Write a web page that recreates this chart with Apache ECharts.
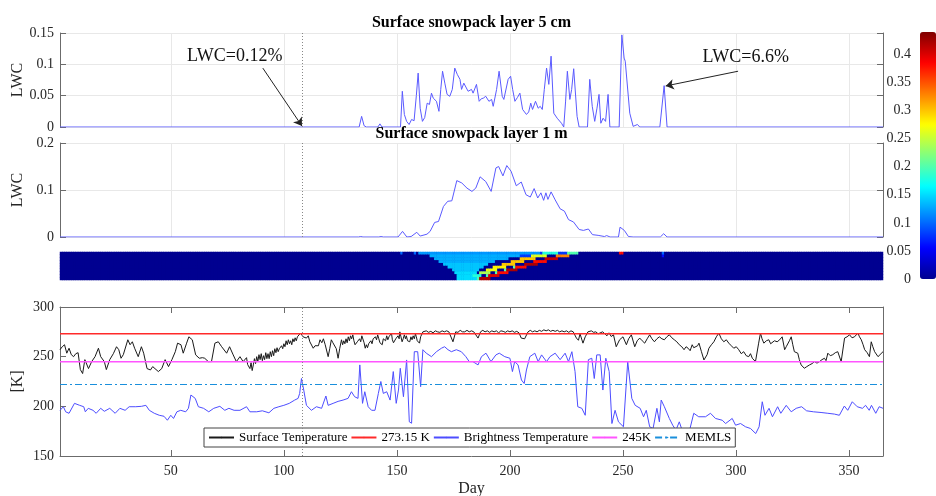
<!DOCTYPE html>
<html>
<head>
<meta charset="utf-8">
<script src="https://cdn.jsdelivr.net/npm/echarts@6/dist/echarts.min.js"></script>
<style>
  html, body { margin: 0; background: #fff; }
  #chart { width: 936px; height: 496px; }
</style>
</head>
<body>
<div id="chart"></div>
<script>
// ---- data ----
const markDay = 108

// LWC of the 5 cm surface layer, [day, LWC]
const lwc5cm = [
  [1, 0], [107.3, 0], [108, 0.0012], [108.8, 0], [133.3, 0], [134.4, 0.017], [135.5, 0.002], [136.5, 0],
  [141.6, 0], [142.5, 0.005], [143.4, 0], [151.6, 0], [152.4, 0.057], [153.3, 0.02], [154.3, 0.009],
  [155.4, 0.004], [156.5, 0.012], [157.6, 0.01], [158.6, 0.05], [159.4, 0.086], [160.3, 0.03], [161.3, 0.009],
  [162.3, 0.015], [163.4, 0.038], [164.4, 0.036], [165.3, 0.054], [166.1, 0.046], [166.8, 0.045], [167.5, 0.041],
  [168.6, 0.025], [169.4, 0.06], [170.2, 0.089], [171.2, 0.07], [172.2, 0.052], [173.4, 0.049], [174.5, 0.06],
  [175.6, 0.094], [176.7, 0.084], [177.9, 0.076], [178.6, 0.06], [179.6, 0.07], [180.4, 0.073], [181.5, 0.057],
  [183, 0.06], [183.7, 0.054], [185.2, 0.068], [186.4, 0.041], [187.3, 0.045], [188.2, 0.046], [189.3, 0.049],
  [190.7, 0.041], [191.9, 0.044], [192.6, 0.033], [194.1, 0.06], [195.2, 0.089], [196.6, 0.049], [197.3, 0.044],
  [199.2, 0.076], [200.3, 0.081], [201.2, 0.06], [202.2, 0.041], [203.3, 0.047], [204.4, 0.054], [205.6, 0.028],
  [207.3, 0.02], [208.3, 0.024], [209.2, 0.038], [210, 0.028], [211.3, 0.041], [212.5, 0.03], [213.4, 0.033],
  [214.3, 0.028], [215.2, 0.06], [216.2, 0.094], [217.2, 0.068], [218.2, 0.113], [219.4, 0.022], [220.9, 0.014],
  [222.8, 0.006], [223.8, 0], [224.6, 0.04], [225.4, 0.089], [226.5, 0.044], [227.3, 0.06], [228.2, 0.093],
  [229.7, 0.017], [230.6, 0], [234.3, 0], [235.3, 0.076], [236.4, 0.033], [237.5, 0.009], [238.5, 0.03],
  [239.4, 0.052], [240.2, 0.006], [241.2, 0.014], [241.8, 0.011], [242.3, 0.009], [243.4, 0.052], [244.2, 0],
  [248.3, 0], [249.5, 0.147], [250.5, 0.11], [251, 0.105], [251.5, 0.102], [253, 0.022], [254.5, 0.001],
  [256.4, 0.004], [257.4, 0], [266.3, 0], [268.2, 0.066], [269.5, 0], [365, 0]
]

// LWC of the 1 m layer, [day, LWC]
const lwc1m = [
  [1, 0], [133, 0], [134, 0.001], [135, 0], [142, 0], [143, 0.001], [144, 0], [150.5, 0], [152.5, 0.012],
  [154.4, 0], [156.3, 0.001], [158.8, 0.01], [160.3, 0.002], [163.3, 0.006], [164.7, 0.012], [166.7, 0.031],
  [168.4, 0.033], [170.6, 0.065], [172.5, 0.076], [174.3, 0.077], [176.5, 0.12], [178.7, 0.115], [181, 0.104],
  [183.2, 0.097], [184.9, 0.104], [186.8, 0.128], [189.3, 0.118], [191.7, 0.097], [193.8, 0.147], [195, 0.15],
  [196.9, 0.13], [198.6, 0.152], [200.5, 0.14], [202.8, 0.109], [205, 0.117], [207.1, 0.09], [209, 0.085],
  [210.7, 0.103], [212.3, 0.083], [213.7, 0.094], [214.9, 0.078], [215.9, 0.094], [216.8, 0.08], [218.2, 0.096],
  [220, 0.079], [222.2, 0.06], [224.1, 0.055], [225.9, 0.037], [228.1, 0.032], [230.6, 0.016], [232.5, 0.014],
  [234.7, 0.017], [236.5, 0.005], [239, 0.0035], [241.8, 0.001], [242.8, 0.003], [244.3, 0], [248, 0],
  [248.7, 0.021], [250.6, 0.014], [252.4, 0.001], [254.5, 0], [266.5, 0], [268, 0.007], [269.5, 0], [365, 0]
]

// surface temperature [K]
const surfaceTemp = [
  [1, 257], [2, 260], [3, 262], [4, 253.5], [5, 258.5], [6, 252], [7, 250], [8, 253], [9, 254], [10, 237],
  [11, 233], [12, 247], [13.6, 238], [15, 245], [16.5, 250], [18, 258.5], [19, 250], [20.6, 245], [21.5, 237],
  [23, 247], [24.6, 253], [26, 260], [27, 257], [28, 248.4], [29, 252], [31, 267], [32, 262], [33, 265],
  [34, 258.5], [35.6, 250], [37, 260], [38, 253.5], [39.5, 238], [41, 236.6], [42, 240], [44.5, 235], [46, 238],
  [47.5, 247], [49, 240], [50.5, 247], [52, 255], [53, 263.6], [54.5, 262], [55.5, 253.5], [57, 263.6], [58, 270],
  [59.5, 267], [61, 251.8], [62.6, 248.4], [64, 249], [65, 248.4], [66.6, 245], [68, 245], [69.5, 263.6], [71, 265],
  [72.5, 260], [74.7, 253.5], [76, 260], [77.6, 251.8], [79, 245], [80.6, 250], [82, 245], [83.5, 249], [84, 242],
  [85, 238], [85.5, 244], [86, 236], [86.5, 241.7], [87, 248], [87.5, 243], [88, 250], [88.5, 245], [89, 252],
  [89.5, 247], [90, 253], [90.5, 246], [91, 251], [91.5, 247], [92, 254], [92.5, 248], [93, 253], [93.5, 248],
  [94, 255], [94.5, 250], [95, 256], [95.5, 251], [96, 258], [96.5, 254], [97, 259], [97.5, 255], [98, 258],
  [98.5, 256], [99, 261], [99.5, 258], [100, 263], [100.5, 260], [101, 266], [101.5, 262], [102, 267], [102.5, 263],
  [103, 266], [103.5, 262], [104, 268], [104.5, 265], [105, 269], [105.5, 266], [106, 270], [106.5, 268],
  [107.4, 273.7], [108.5, 270], [109.2, 272], [110, 268.7], [110.8, 271], [111.5, 265], [112.3, 267], [113, 258.5],
  [113.8, 261], [114.5, 263], [115.3, 261], [116, 267], [116.8, 264], [117.5, 268], [118.3, 262], [119.6, 250],
  [120.3, 258], [121, 267], [121.7, 264], [122.5, 263.6], [123.2, 258], [124, 248.4], [124.7, 258], [125.5, 267],
  [126, 262], [126.5, 266], [127, 263], [127.5, 268], [128, 264], [128.5, 270], [129, 266], [129.5, 271], [130, 268],
  [130.5, 272], [131, 266], [131.5, 262], [132, 260], [132.5, 265], [133, 263], [133.5, 268], [134, 265],
  [134.5, 271], [135, 272], [135.5, 264], [136, 258.5], [136.5, 262], [137, 259], [137.5, 263], [138, 261],
  [138.5, 266], [139, 263], [139.5, 268], [140, 266], [140.5, 270], [141, 267], [141.5, 272], [142, 268],
  [142.5, 264], [143, 266], [143.5, 262], [144, 268], [144.5, 270], [145, 266], [145.5, 271], [146, 267],
  [146.5, 270], [147, 268], [147.6, 273.7], [148, 267], [148.5, 264], [149, 263.6], [149.5, 268], [150, 266],
  [150.5, 271], [151, 268], [151.3, 275], [151.8, 270], [152.3, 265], [152.8, 268], [153.3, 272], [153.8, 268],
  [154.2, 271], [154.7, 266], [155.2, 268], [155.7, 265], [156.2, 270], [156.7, 267], [157.2, 271], [157.7, 268],
  [158.2, 273], [158.6, 270], [159, 266], [159.5, 264], [160, 263.6], [160.5, 270], [161, 268], [161.5, 275],
  [163, 276], [164, 274.5], [165, 275.5], [166, 274], [167, 276], [168, 275], [169, 274.5], [170, 276], [171, 275],
  [172, 276], [173, 275], [174.8, 265], [176, 275], [177, 274.5], [178, 276.5], [179, 275], [180, 275], [181, 276.5],
  [182, 275], [183, 276], [184, 275], [185.9, 268.7], [187, 275], [188, 276.5], [189, 275], [190, 276], [191, 274.5],
  [192, 276], [193, 275], [194, 276], [195, 274], [196, 276], [197, 275.5], [198, 274.5], [199, 276], [200, 275],
  [201, 276], [202, 274.5], [203, 275.5], [204, 274], [205, 268.7], [206.5, 268], [208, 275], [209, 276.5],
  [210, 275], [211, 276], [212, 275], [213, 276.5], [214, 275.5], [215, 277], [216, 276], [217, 277], [218, 275.5],
  [219, 276.5], [220, 275.5], [221, 276.5], [222, 275], [223, 276], [224, 275], [225, 276], [226, 274.5], [227, 276],
  [228, 275], [229.4, 268.7], [230.3, 266.5], [231, 273], [232.3, 263.6], [233.3, 270], [234.5, 275], [235.3, 274],
  [236, 276], [237, 274.5], [238, 275], [239, 273], [239.7, 274.5], [241, 275], [242, 273], [242.9, 271],
  [243.8, 274], [244.8, 270.3], [245.8, 272], [247, 260], [248.5, 267], [250, 270], [251.5, 262], [252.5, 268],
  [253.7, 272], [255.2, 260], [256.3, 266], [257.4, 268.7], [258.5, 266], [259.6, 263.6], [260.7, 268], [261.8, 272],
  [262.8, 268], [263.9, 265], [265, 268], [266.1, 270], [267.2, 268], [268.3, 267], [269.4, 270], [270.5, 272],
  [271.6, 269], [272.7, 267], [273.8, 265], [274.9, 262], [276, 260], [277, 257], [277.9, 260], [278.8, 258.5],
  [279.7, 256], [280.6, 262], [281.3, 259], [282.1, 257], [283, 261], [283.6, 263.6], [284.7, 255], [285.8, 246.7],
  [286.5, 245], [287.2, 252], [288, 258.5], [289.1, 262], [290.2, 265], [291.3, 270], [292.4, 273.7], [293.5, 268],
  [294.6, 265], [295.7, 267], [296.8, 263.6], [297.9, 261], [299, 258.5], [300.1, 260], [301.2, 257], [302.3, 253],
  [303.4, 255], [304.5, 251], [305.6, 250], [306.4, 253], [307.2, 248.4], [308.6, 245], [310, 263.6], [310.8, 273.7],
  [311.5, 268], [312.3, 263.6], [313.4, 266], [314.5, 267], [315.3, 263], [316, 262], [317, 266], [318.2, 265],
  [319.3, 267], [320.4, 270], [321.5, 257], [322.2, 260], [322.9, 262], [323.6, 266], [324.4, 270], [325.1, 262],
  [325.8, 255], [326.5, 256], [327.3, 253.5], [328, 247], [328.8, 241.7], [329.5, 240], [330.2, 238.3], [331.3, 240],
  [332.5, 241.7], [333.6, 243], [334.7, 245], [335.8, 243.5], [336.9, 245], [338, 247], [339.1, 248.4], [339.8, 246],
  [340.6, 253.5], [341.7, 251], [342.8, 252], [343.9, 254], [345, 255], [346.5, 245], [348, 268.7], [349.1, 270],
  [350.2, 272], [351.3, 269], [352.4, 270], [353.2, 272], [353.9, 273.7], [354.6, 270], [355.4, 267], [356.2, 262],
  [356.9, 257], [358, 254], [359, 250], [359.8, 265], [360.5, 260], [361.3, 255], [362, 257], [362.8, 250], [365, 255]
]

// brightness temperature [K]
const brightnessTemp = [
  [1, 196], [2.5, 199.6], [3, 201], [3.5, 194.5], [5, 193], [7.4, 203], [9.7, 201], [11.5, 199.6], [12.2, 194.5],
  [13.5, 198], [15.6, 196], [17, 193], [19, 198], [20.6, 195], [23, 198], [25.4, 193], [27.5, 198], [29.8, 196],
  [31.6, 199.6], [34.5, 199.6], [37, 200], [39, 201], [40.5, 196], [42.7, 193], [44.9, 191], [47, 190], [48.5, 186],
  [50, 191], [51.2, 187.8], [52.7, 194.5], [54.4, 196], [56.6, 194.5], [57.8, 198], [58.9, 211.4], [60.8, 208],
  [62.2, 199.6], [64.5, 198], [66.8, 194.5], [69, 198], [71.7, 200], [73.9, 196], [75.7, 198], [78, 196],
  [80.6, 196], [83.5, 199.6], [85, 194.5], [88, 194.5], [90.5, 195.5], [93.4, 193.5], [95.6, 198], [97.8, 199.6],
  [100, 201], [102.4, 203], [104.8, 206.3], [106.3, 208], [107, 213], [107.8, 228], [108.8, 216.4], [110, 201],
  [112.2, 196], [114.4, 199.6], [116.7, 198], [118.6, 210.4], [119.6, 201], [121.8, 203], [124, 205], [126.2, 206.3],
  [128.4, 208], [129.9, 214.7], [131.3, 209.7], [132.8, 208], [133.6, 241.7], [134.8, 203], [135.8, 214.7],
  [137.3, 199.6], [138.8, 196], [140.3, 196], [141.8, 213], [142.9, 225], [144, 213], [145.5, 214.7], [147, 206.3],
  [148.4, 235], [149.7, 203], [150.7, 216.4], [151.5, 238.3], [152.9, 209.7], [154.3, 246.7], [155.5, 184.4],
  [156.5, 183], [157.7, 255], [159.2, 255], [160.5, 219.8], [161.5, 257], [163, 253.5], [165.3, 250], [167.5, 255],
  [169.7, 258.5], [171.1, 260], [172.6, 257], [174.1, 255], [176.3, 257], [178.5, 255], [180.5, 250], [182, 245],
  [183.6, 245], [185.9, 241.7], [187.4, 250], [189.4, 253.5], [191.6, 245], [193.8, 251.8], [195.3, 253.5],
  [197.7, 250], [200, 248.4], [201.1, 235], [202.1, 245], [203.6, 241.7], [205.1, 226.5], [206.3, 223], [207.3, 236.6],
  [208.8, 250], [211, 253.5], [212.5, 245], [214, 251.8], [216.2, 245], [217.7, 250], [220, 253.5], [222.2, 247],
  [224.4, 253.5], [225.9, 245], [227.4, 255], [228.8, 235], [230, 199.6], [231.8, 198], [233.3, 191], [234.7, 247],
  [236.2, 248.4], [237.3, 228], [238.4, 251.8], [239.9, 251.8], [241.1, 216.4], [242.4, 248.4], [243.9, 235],
  [245.1, 182.7], [246.5, 196], [248, 184.4], [250.2, 179.4], [252.1, 245], [253.9, 208], [255.4, 201], [257.6, 198],
  [259.1, 189.5], [260.3, 196], [261.8, 179.4], [263.3, 177.7], [265, 198], [266.1, 184.4], [266.9, 206.3],
  [268.3, 199.6], [270.5, 187.8], [272, 181], [273.4, 176], [274.9, 184.4], [276.4, 174.3], [279.1, 172.6],
  [281.3, 193], [283.5, 189.5], [286.5, 189.5], [288.7, 193], [290.9, 187.8], [293.9, 186], [295.4, 182.7],
  [298.3, 187.8], [299.8, 181], [302, 182.7], [304.2, 179.4], [306.4, 177.7], [308.7, 172.6], [310.2, 179.4],
  [311.6, 204.6], [312.8, 191], [314.6, 198], [316.1, 189.5], [318.4, 199.6], [319.8, 193], [322.2, 201],
  [324.4, 194.5], [326.6, 198], [329, 199.6], [331.2, 195.5], [334.2, 194.5], [337.6, 193.8], [340.6, 193],
  [343.5, 192.2], [345.7, 191], [347.9, 200.3], [349.4, 196], [351.4, 204.6], [353.6, 199.6], [355.9, 198],
  [357.3, 201], [358.9, 196], [359.9, 201], [361.8, 193], [363.3, 199.6], [365, 198]
]

// constant reference levels [K]
const meltLevel = 273.15
const level245 = 245
const memlsLevel = 222

// snowpack LWC profile: [row (0 = top), first day, last day, LWC]
const depthRows = ['0', '1', '2', '3', '4', '5', '6', '7', '8', '9']
const heatRuns = [
  // light-blue wedge of moderately wet snow
  [0, 160, 214, 0.12], [1, 165, 205, 0.13], [2, 167, 199, 0.13], [3, 169, 193, 0.13], [4, 171, 190, 0.14],
  [5, 173, 188, 0.14], [6, 175, 186, 0.14], [7, 176, 185, 0.15], [8, 177, 185, 0.15], [9, 177, 185, 0.15],
  [0, 214, 228, 0.08], [1, 205, 214, 0.08],
  // upper diagonal band
  [8, 184, 187, 0.18], [7, 187, 191, 0.24], [6, 190, 194, 0.27], [5, 193, 198, 0.28],
  [4, 197, 202, 0.3], [3, 201, 206, 0.3], [2, 205, 211, 0.3], [1, 210, 216, 0.26], [0, 215, 221, 0.18],
  // lower diagonal band (wettest)
  [9, 186, 186, 0.2], [8, 190, 190, 0.2], [7, 194, 194, 0.2], [6, 198, 198, 0.2], [5, 202, 202, 0.2],
  [9, 187, 191, 0.42], [8, 191, 195, 0.4], [7, 195, 199, 0.38], [6, 199, 203, 0.42], [5, 203, 207, 0.38],
  [4, 207, 212, 0.42], [3, 211, 216, 0.38], [2, 216, 221, 0.41], [1, 221, 226, 0.33], [0, 226, 230, 0.2],
  // isolated wet spots near the surface
  [0, 152, 152, 0.1], [0, 158, 158, 0.1], [0, 249, 250, 0.38], [0, 268, 268, 0.1], [1, 268, 268, 0.06]
]

const dayTicks = [50, 100, 150, 200, 250, 300, 350]

// ---- build ----
const days = []
for (let d = 1; d <= 365; d++) days.push(String(d))

const heatGrid = depthRows.map(() => days.map(() => 0))
heatRuns.forEach(([row, d0, d1, v]) => {
  for (let d = d0; d <= d1; d++) heatGrid[row][d - 1] = v
})
const heatData = []
heatGrid.forEach((r, ri) => r.forEach((v, di) => heatData.push([di, ri, v])))

const FONT = 'Liberation Serif'
const AXIS_COLOR = '#6b6b6b'
const GRID_COLOR = '#e8e8e8'
const jet = ['#000090', '#0000ff', '#0080ff', '#00ffff', '#80ff80', '#ffff00', '#ff8000', '#ff0000', '#800000']

const tickLabel = { fontFamily: FONT, fontSize: 14, color: '#262626' }
const nameStyle = { fontFamily: FONT, fontSize: 16, color: '#262626' }

const dayLine = {
  silent: true,
  symbol: 'none',
  label: { show: false },
  lineStyle: { color: '#888', type: [1, 2], width: 1 },
  data: [{ xAxis: markDay }]
}

function lwcX(gridIndex) {
  return {
    type: 'value', gridIndex, min: 1, max: 365, splitNumber: 7,
    axisLine: { show: false }, axisTick: { show: false }, axisLabel: { show: false },
    splitLine: { show: true, lineStyle: { color: GRID_COLOR } }
  }
}
function lwcY(gridIndex, max, interval) {
  return [
    {
      type: 'value', gridIndex, min: 0, max, interval, name: 'LWC',
      nameLocation: 'middle', nameGap: 34, nameMoveOverlap: false, nameTextStyle: nameStyle,
      axisLine: { show: true, lineStyle: { color: AXIS_COLOR } },
      axisTick: { show: true, inside: true, length: 6, lineStyle: { color: AXIS_COLOR } },
      axisLabel: Object.assign({ margin: 6 }, tickLabel),
      splitLine: { show: true, lineStyle: { color: GRID_COLOR } }
    },
    {
      type: 'value', gridIndex, min: 0, max, interval, position: 'right',
      axisLine: { show: true, lineStyle: { color: AXIS_COLOR } },
      axisTick: { show: true, inside: true, length: 6, lineStyle: { color: AXIS_COLOR } },
      axisLabel: { show: false }, splitLine: { show: false }
    }
  ]
}

const chart = echarts.init(document.getElementById('chart'), null, { renderer: 'canvas' })

const option = {
  animation: false,
  backgroundColor: '#fff',
  textStyle: { fontFamily: FONT },
  title: [
    { text: 'Surface snowpack layer 5 cm', left: 471.5, top: 15, textAlign: 'center', padding: 0,
      textStyle: { fontFamily: FONT, fontSize: 16, fontWeight: 'bold', color: '#000' } },
    { text: 'Surface snowpack layer 1 m', left: 471.5, top: 126, textAlign: 'center', padding: 0,
      textStyle: { fontFamily: FONT, fontSize: 16, fontWeight: 'bold', color: '#000' } }
  ],
  grid: [
    { left: 60, top: 33, width: 823, height: 94, outerBoundsMode: 'none' },
    { left: 60, top: 143, width: 823, height: 94, outerBoundsMode: 'none' },
    { left: 60, top: 252, width: 823, height: 28, outerBoundsMode: 'none',
      show: true, backgroundColor: '#000090', borderWidth: 0 },
    { left: 60, top: 307, width: 823, height: 149, outerBoundsMode: 'none' },
    { left: 920, top: 32, width: 16, height: 247, outerBoundsMode: 'none' }
  ],
  xAxis: [
    lwcX(0),
    lwcX(1),
    { type: 'category', gridIndex: 2, data: days, show: false },
    {
      type: 'value', gridIndex: 3, min: 1, max: 365, position: 'bottom',
      name: 'Day', nameLocation: 'middle', nameGap: 25, nameMoveOverlap: false, nameTextStyle: nameStyle,
      axisLine: { show: true, onZero: false, lineStyle: { color: AXIS_COLOR } },
      axisTick: { show: true, inside: true, length: 6, customValues: dayTicks, lineStyle: { color: AXIS_COLOR } },
      axisLabel: Object.assign({ customValues: dayTicks, margin: 8 }, tickLabel),
      splitLine: { show: false }
    },
    {
      type: 'value', gridIndex: 3, min: 1, max: 365, position: 'top',
      axisLine: { show: true, onZero: false, lineStyle: { color: AXIS_COLOR } },
      axisTick: { show: true, inside: true, length: 6, customValues: dayTicks, lineStyle: { color: AXIS_COLOR } },
      axisLabel: { show: false }, splitLine: { show: false }
    },
    { type: 'category', gridIndex: 4, data: ['c'], show: false }
  ],
  yAxis: [
    ...lwcY(0, 0.15, 0.05),
    ...lwcY(1, 0.2, 0.1),
    { type: 'category', gridIndex: 2, data: depthRows, inverse: true, show: false },
    {
      type: 'value', gridIndex: 3, min: 150, max: 300, interval: 50, name: '[K]',
      nameLocation: 'middle', nameGap: 34, nameMoveOverlap: false, nameTextStyle: nameStyle,
      axisLine: { show: true, lineStyle: { color: AXIS_COLOR } },
      axisTick: { show: true, inside: true, length: 6, lineStyle: { color: AXIS_COLOR } },
      axisLabel: Object.assign({ margin: 6 }, tickLabel),
      splitLine: { show: false }
    },
    {
      type: 'value', gridIndex: 3, min: 150, max: 300, interval: 50, position: 'right',
      axisLine: { show: true, lineStyle: { color: AXIS_COLOR } },
      axisTick: { show: false }, axisLabel: { show: false }, splitLine: { show: false }
    },
    {
      type: 'value', gridIndex: 4, min: 0, max: 0.44, interval: 0.05, position: 'left',
      axisLine: { show: false }, axisTick: { show: false },
      axisLabel: Object.assign({ margin: 9, showMaxLabel: false }, tickLabel),
      splitLine: { show: false }
    }
  ],
  visualMap: {
    type: 'continuous', seriesIndex: 2, min: 0, max: 0.44,
    inRange: { color: jet },
    left: 920, top: 32, itemWidth: 16, itemHeight: 247, padding: 0,
    calculable: false, hoverLink: false
  },
  legend: {
    data: ['Surface Temperature', '273.15 K', 'Brightness Temperature', '245K', 'MEMLS'],
    left: 204, top: 428, itemWidth: 25, itemHeight: 2, itemGap: 3,
    padding: [3, 4, 3, 4],
    backgroundColor: '#fff', borderColor: '#444', borderWidth: 1, borderRadius: 0,
    textStyle: { fontFamily: FONT, fontSize: 13, color: '#000' }
  },
  series: [
    {
      name: 'LWC 5 cm', type: 'line', xAxisIndex: 0, yAxisIndex: 0, data: lwc5cm,
      symbol: 'none', lineStyle: { color: '#5a5aff', width: 1 },
      markLine: {
        silent: true, symbol: 'none', label: { show: false },
        data: [
          { xAxis: markDay, lineStyle: { color: '#888', type: [1, 2], width: 1 } },
          [
            { coord: [90.7, 0.094], symbol: 'none', lineStyle: { color: '#222', type: 'solid', width: 1 } },
            { coord: [108, 0.0016], symbol: 'arrow', symbolSize: 8 }
          ],
          [
            { coord: [300.9, 0.089], symbol: 'none', lineStyle: { color: '#222', type: 'solid', width: 1 } },
            { coord: [268.9, 0.0655], symbol: 'arrow', symbolSize: 8 }
          ]
        ]
      },
      markPoint: {
        silent: true, symbol: 'circle', symbolSize: 1, itemStyle: { color: 'rgba(0,0,0,0)' },
        label: { show: true, position: 'inside', fontFamily: FONT, fontSize: 18, color: '#111' },
        data: [
          { coord: [78.3, 0.113], label: { formatter: 'LWC=0.12%' } },
          { coord: [304.3, 0.111], label: { formatter: 'LWC=6.6%' } }
        ]
      }
    },
    {
      name: 'LWC 1 m', type: 'line', xAxisIndex: 1, yAxisIndex: 2, data: lwc1m,
      symbol: 'none', lineStyle: { color: '#5a5aff', width: 1 }, markLine: dayLine
    },
    {
      name: 'LWC profile', type: 'heatmap', xAxisIndex: 2, yAxisIndex: 4, data: heatData,
      itemStyle: { borderWidth: 0 }, progressive: 0
    },
    {
      name: 'Surface Temperature', type: 'line', xAxisIndex: 3, yAxisIndex: 5, data: surfaceTemp,
      symbol: 'none', color: '#1a1a1a', lineStyle: { color: '#1a1a1a', width: 1 }, markLine: dayLine
    },
    {
      name: '273.15 K', type: 'line', xAxisIndex: 3, yAxisIndex: 5,
      data: [[1, meltLevel], [365, meltLevel]],
      symbol: 'none', color: '#ff2a2a', lineStyle: { color: '#ff2a2a', width: 1.5 }
    },
    {
      name: 'Brightness Temperature', type: 'line', xAxisIndex: 3, yAxisIndex: 5, data: brightnessTemp,
      symbol: 'none', color: '#4d4dff', lineStyle: { color: '#4d4dff', width: 1 }
    },
    {
      name: '245K', type: 'line', xAxisIndex: 3, yAxisIndex: 5,
      data: [[1, level245], [365, level245]],
      symbol: 'none', color: '#ff55ff', lineStyle: { color: '#ff55ff', width: 1.5 }
    },
    {
      name: 'MEMLS', type: 'line', xAxisIndex: 3, yAxisIndex: 5,
      data: [[1, memlsLevel], [365, memlsLevel]],
      symbol: 'none', color: '#1a8fdc', lineStyle: { color: '#1a8fdc', width: 1.2, type: [7, 3, 2, 3] }
    }
  ]
}

chart.setOption(option)

window.addEventListener('resize', () => {
  chart.resize()
})
</script>
</body>
</html>
